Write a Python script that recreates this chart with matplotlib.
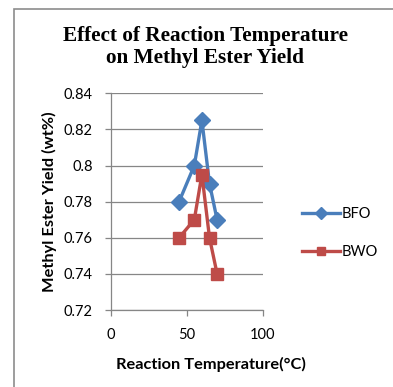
import matplotlib.pyplot as plt
from matplotlib.patches import Rectangle

# data
temp_bfo = [45, 55, 60, 65, 70]
yield_bfo = [0.78, 0.80, 0.825, 0.79, 0.77]
temp_bwo = [45, 55, 60, 65, 70]
yield_bwo = [0.76, 0.77, 0.795, 0.76, 0.74]

x_ticks = [0, 50, 100]
y_ticks = [0.72, 0.74, 0.76, 0.78, 0.80, 0.82, 0.84]
y_labels = ['0.72', '0.74', '0.76', '0.78', '0.8', '0.82', '0.84']

blue = '#4A7EBB'
red = '#BE4B48'
grey = '#868686'
sans = ['Lato', 'DejaVu Sans']

W, H = 393, 387
fig = plt.figure(figsize=(W / 100, H / 100), dpi=100)

# outer chart border (only top and left visible)
fig.add_artist(Rectangle((13.5 / W, -0.1), 1.2, 1 - 8.5 / H + 0.1,
                         transform=fig.transFigure, fill=False,
                         edgecolor='#8c8c8c', linewidth=1.2))

ax = fig.add_axes([110.7 / W, 1 - 310 / H, 152 / W, 216.7 / H])

ax.plot(temp_bfo, yield_bfo, color=blue, linewidth=2.4, marker='D',
        markersize=8.5, label='BFO', zorder=3)
ax.plot(temp_bwo, yield_bwo, color=red, linewidth=2.4, marker='s',
        markersize=9, label='BWO', zorder=3)

ax.set_xlim(0, 100)
ax.set_ylim(0.72, 0.84)
ax.set_xticks(x_ticks)
ax.set_yticks(y_ticks)
ax.set_yticklabels(y_labels)
ax.grid(axis='y', color=grey, linewidth=0.9)
for s in ['top', 'right']:
    ax.spines[s].set_visible(False)
for s in ['left', 'bottom']:
    ax.spines[s].set_color(grey)
    ax.spines[s].set_linewidth(0.9)
ax.tick_params(colors=grey, length=4, width=0.9, labelcolor='black')
ax.tick_params(axis='y', pad=9)
ax.tick_params(axis='x', pad=9)
for lab in ax.get_xticklabels() + ax.get_yticklabels():
    lab.set_family(sans)
    lab.set_fontsize(10.5)

ax.set_xlabel('Reaction Temperature(°C)', family=sans, fontsize=11.8,
              fontweight='bold')
ax.xaxis.set_label_coords((211 - 110.7) / 152, -0.215)
ax.set_ylabel('Methyl Ester Yield (wt%)', family=sans, fontsize=11.8,
              fontweight='bold', labelpad=5)

fig.text(205 / W, 1 - 47 / H, 'Effect of Reaction Temperature\non Methyl Ester Yield',
         ha='center', va='center', family=['Liberation Serif'],
         fontsize=15.3, fontweight='bold', linespacing=1.1)

ax.legend(loc='center left', bbox_to_anchor=(289 / W, 1 - 233 / H),
          bbox_transform=fig.transFigure, frameon=False,
          prop={'family': sans, 'size': 10.5}, handlelength=2.6,
          labelspacing=1.6, handletextpad=0.1, markerscale=0.7)

fig.savefig('out.png', dpi=100)
